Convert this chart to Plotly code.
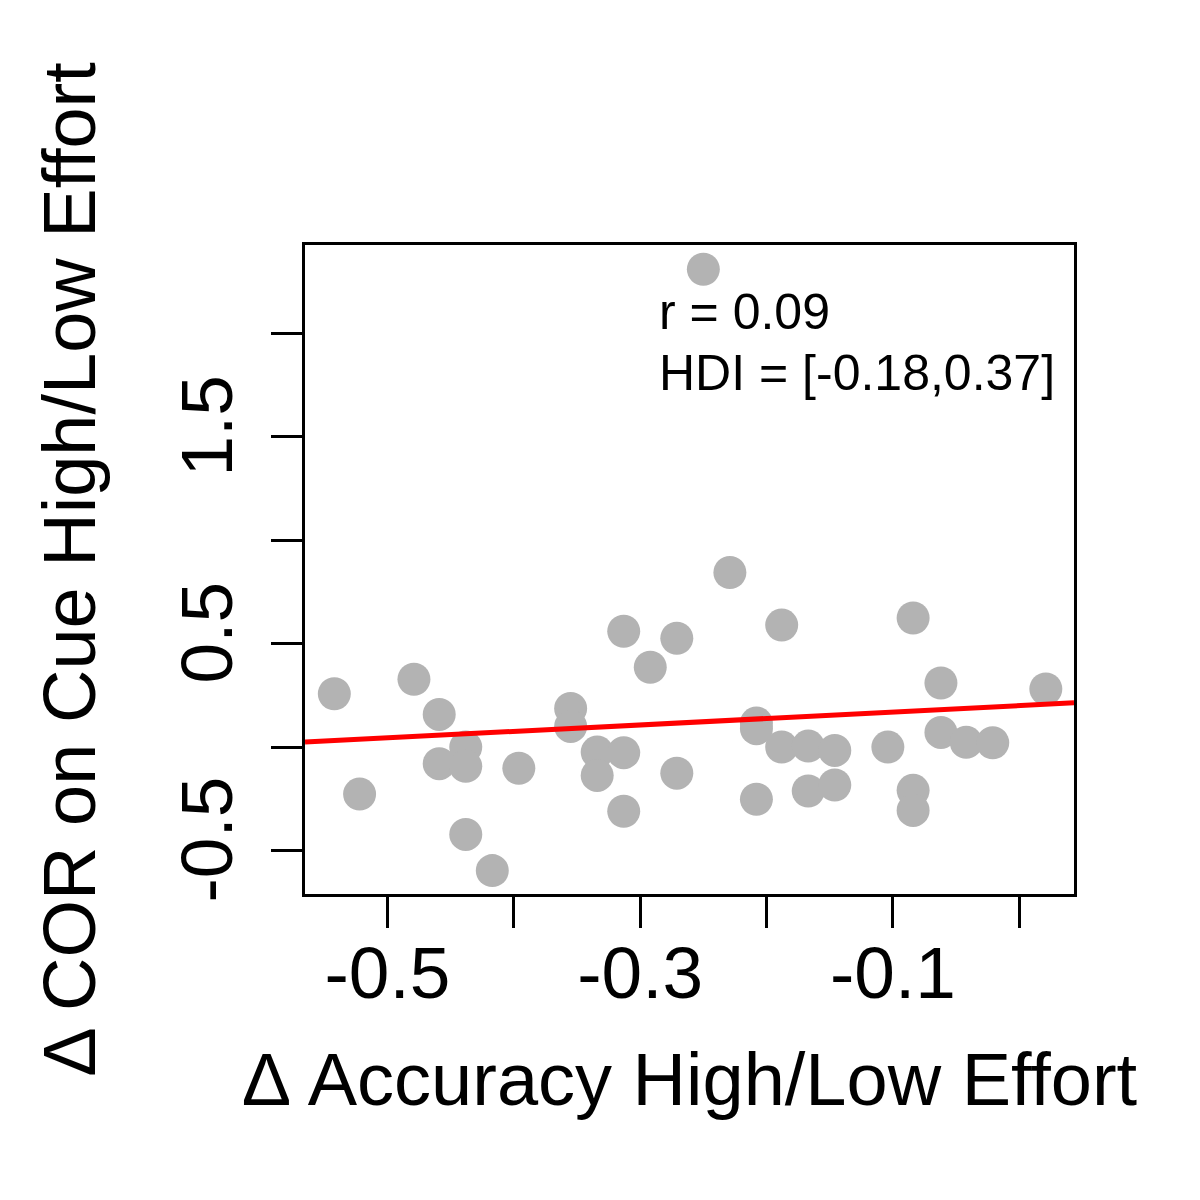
import plotly.graph_objects as go

# ---- data ----
acc_diff = [-0.542, -0.522, -0.479, -0.459, -0.459, -0.438, -0.438, -0.438, -0.417, -0.396,
            -0.355, -0.355, -0.334, -0.334, -0.313, -0.313, -0.313, -0.292, -0.271, -0.271,
            -0.250, -0.229, -0.208, -0.208, -0.208, -0.188, -0.188, -0.167, -0.167, -0.146,
            -0.146, -0.104, -0.084, -0.084, -0.084, -0.062, -0.062, -0.042, -0.021, 0.021]
cor_diff = [0.258, -0.227, 0.328, 0.158, -0.080, 0.000, -0.093, -0.422, -0.597, -0.102,
            0.187, 0.100, -0.024, -0.137, -0.027, 0.560, -0.310, 0.386, 0.526, -0.126,
            2.310, 0.844, 0.116, 0.089, -0.252, 0.590, 0.000, 0.005, -0.212, -0.016,
            -0.183, 0.000, 0.624, -0.209, -0.306, 0.310, 0.071, 0.023, 0.021, 0.281]

fit_intercept = 0.2005
fit_slope = 0.311

x_range = [-0.5652, 0.0433]
y_range = [-0.710, 2.427]

x_tickvals = [-0.5, -0.4, -0.3, -0.2, -0.1, 0.0]
x_ticktext = ["-0.5", "", "-0.3", "", "-0.1", ""]
y_tickvals = [-0.5, 0.0, 0.5, 1.0, 1.5, 2.0]
y_ticktext = ["-0.5", "", "0.5", "", "1.5", ""]

stat_lines = ["r = 0.09", "HDI = [-0.18,0.37]"]
stat_x = -0.2867
stat_y = [2.105, 1.808]

x_title = "Δ Accuracy High/Low Effort"
y_title = "Δ COR on Cue High/Low Effort"

FONT = "Liberation Sans, Arial, Helvetica, sans-serif"

fig = go.Figure()
fig.add_trace(go.Scatter(
    x=acc_diff, y=cor_diff, mode="markers",
    marker=dict(size=33, color="#B3B3B3", line=dict(width=0)),
    showlegend=False, hoverinfo="skip"))

line_x = x_range
line_y = [fit_intercept + fit_slope * v for v in line_x]
fig.add_trace(go.Scatter(
    x=line_x, y=line_y, mode="lines",
    line=dict(color="#FF0000", width=5),
    showlegend=False, hoverinfo="skip"))

for txt, yy in zip(stat_lines, stat_y):
    fig.add_annotation(x=stat_x, y=yy, xref="x", yref="y", text=txt,
                       showarrow=False, xanchor="left", yanchor="middle",
                       font=dict(family=FONT, size=50, color="black"))

axis_common = dict(
    showline=True, mirror=True, linecolor="black", linewidth=3,
    ticks="outside", ticklen=31, tickwidth=3, tickcolor="black",
    showgrid=False, zeroline=False, automargin=False,
    tickfont=dict(family=FONT, size=73, color="black"),
)

fig.update_layout(
    width=1200, height=1200,
    margin=dict(l=305, r=126, t=245, b=306, pad=0),
    paper_bgcolor="white", plot_bgcolor="white",
    xaxis=dict(range=x_range, tickmode="array", tickvals=x_tickvals, ticktext=x_ticktext,
               ticklabelstandoff=-18,
               title=dict(text=x_title, font=dict(family=FONT, size=74, color="black"), standoff=42),
               **axis_common),
    yaxis=dict(range=y_range, tickmode="array", tickvals=y_tickvals, ticktext=y_ticktext,
               tickangle=-90, ticklabelstandoff=10,
               title=dict(text=y_title, font=dict(family=FONT, size=74, color="black"), standoff=46),
               **axis_common),
)

fig.write_html("out.html")
